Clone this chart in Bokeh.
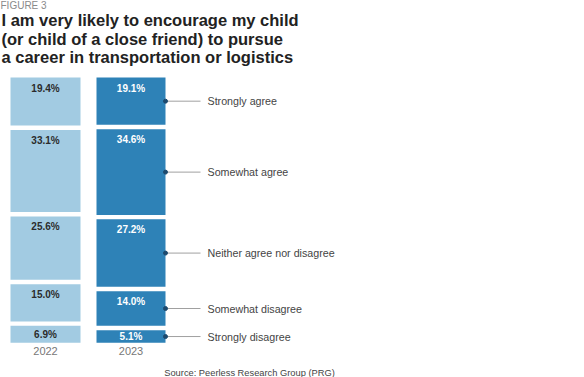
from bokeh.plotting import figure
from bokeh.models import Range1d, Label, ColumnDataSource
from bokeh.embed import file_html
from bokeh.resources import INLINE
from bokeh.core.properties import value

years = ["2022", "2023"]
categories = ["Strongly agree", "Somewhat agree", "Neither agree nor disagree",
              "Somewhat disagree", "Strongly disagree"]
v2022 = [19.4, 33.1, 25.6, 15.0, 6.9]
v2023 = [19.1, 34.6, 27.2, 14.0, 5.1]

W, H = 584, 377
GAP = 1.75          # gap between segments, in percent units
PX = 2.48           # pixels per percent unit
TOP_PX = 77         # pixel row of the 0% edge
y_top = -TOP_PX / PX
y_bot = (H - TOP_PX) / PX

p = figure(width=W, height=H, output_backend="svg", toolbar_location=None,
           x_range=Range1d(0, W), y_range=Range1d(y_bot, y_top),
           min_border=0, outline_line_color=None)
p.axis.visible = False
p.grid.visible = False
p.background_fill_color = "white"
p.border_fill_color = "white"

FNAME = "Liberation Sans"
FONT = value(FNAME)
bar_x = {"2022": (10, 80), "2023": (96, 165)}
fills = {"2022": "#a2cbe2", "2023": "#2e82b7"}
txtcol = {"2022": "#2b2b2b", "2023": "#ffffff"}

def segs(vals):
    tops, bots = [], []
    acc = 0.0
    for i, v in enumerate(vals):
        t = acc + i * GAP
        tops.append(t)
        bots.append(t + v)
        acc += v
    return tops, bots

for yr, vals in zip(years, [v2022, v2023]):
    tops, bots = segs(vals)
    l, r = bar_x[yr]
    src = ColumnDataSource(dict(
        left=[l] * len(vals), right=[r] * len(vals), top=tops, bottom=bots,
        xc=[(l + r) / 2] * len(vals),
        ly=[min(t + 10.5 / PX, (t + b) / 2) for t, b in zip(tops, bots)],
        lab=[f"{v:.1f}%" for v in vals]))
    p.quad(left="left", right="right", top="top", bottom="bottom", source=src,
           fill_color=fills[yr], line_color=None)
    p.text(x="xc", y="ly", text="lab", source=src, text_align="center",
           text_baseline="middle", text_font=FONT, text_font_style="bold",
           text_font_size="10px", text_color=txtcol[yr])
    p.text(x=[(l + r) / 2], y=[bots[-1] + 8.3 / PX], text=[yr],
           text_align="center", text_baseline="middle", text_font=FONT,
           text_font_size="11px", text_color="#777777")

# legend callouts from 2023 segments
t23, b23 = segs(v2023)
cy = [(t + b) / 2 for t, b in zip(t23, b23)]
lx0 = bar_x["2023"][1]
p.segment(x0=[lx0] * len(cy), x1=[lx0 + 35] * len(cy), y0=cy, y1=cy,
          line_color="#a0a0a0", line_width=1)
p.scatter(x=[lx0] * len(cy), y=cy, size=4, color="#1d4a6e")
p.text(x=[lx0 + 42] * len(cy), y=cy, text=categories, text_align="left",
       text_baseline="middle", text_font=FONT, text_font_size="10.7px",
       text_color="#444444")

# titles
p.add_layout(Label(x=0, y=H + 0.5, x_units="screen", y_units="screen",
                   text="FIGURE 3", text_baseline="top", text_font=FNAME,
                   text_font_size="10px", text_color="#8a8a8a"))
title_lines = ["I am very likely to encourage my child",
               "(or child of a close friend) to pursue",
               "a career in transportation or logistics"]
for i, t in enumerate(title_lines):
    p.add_layout(Label(x=1, y=H - 10.5 - i * 18.6, x_units="screen", y_units="screen",
                       text=t, text_baseline="top", text_font=FNAME,
                       text_font_style="bold", text_font_size="16.5px",
                       text_color="#222222"))
p.add_layout(Label(x=249, y=5, x_units="screen", y_units="screen",
                   text="Source: Peerless Research Group (PRG)", text_align="center",
                   text_baseline="middle", text_font=FNAME, text_font_size="9.3px",
                   text_color="#444444"))

open("out.html", "w").write(file_html(p, INLINE))
